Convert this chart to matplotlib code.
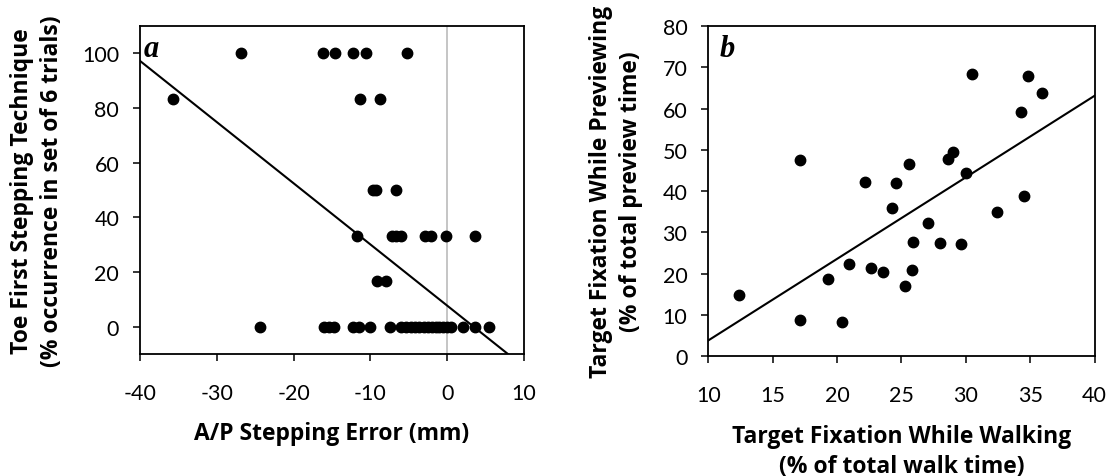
import numpy as np
import matplotlib
matplotlib.use("Agg")
import matplotlib.pyplot as plt

plt.rcParams['font.family'] = ['Lato', 'DejaVu Sans']
plt.rcParams['axes.unicode_minus'] = False

# Panel a: A/P stepping error (mm) vs toe-first occurrence (%)
a_err = [-26.8, -16.1, -14.6, -12.3, -10.5, -5.2,
         -35.7, -11.3, -8.8,
         -9.6, -9.2, -6.7,
         -11.7, -7.2, -6.6, -6.0, -2.85, -2.1, -0.1, 3.7,
         -9.1, -8.0,
         -24.4, -16.0, -15.4, -14.7, -12.2, -11.5, -10.0, -7.4, -6.0,
         -5.3, -4.7, -4.2, -3.6, -3.0, -2.5, -2.0, -1.5, -1.0, -0.5, 0.0, 0.5,
         2.1, 3.7, 5.5]
a_toe = [100, 100, 100, 100, 100, 100,
         83.3, 83.3, 83.3,
         50, 50, 50,
         33.3, 33.3, 33.3, 33.3, 33.3, 33.3, 33.3, 33.3,
         16.7, 16.7,
         0, 0, 0, 0, 0, 0, 0, 0, 0,
         0, 0, 0, 0, 0, 0, 0, 0, 0, 0, 0, 0,
         0, 0, 0]
# trendline as drawn in the figure (slope, intercept)
a_fit = [-2.24, 7.7]

# Panel b: target fixation while walking vs while previewing (%)
b_walk = [17.1, 22.2, 24.6, 25.6, 28.6, 29.0, 30.0, 30.5, 34.8, 35.9, 34.3,
          34.5, 32.4, 24.3, 27.1, 25.9, 28.0, 29.6, 20.9, 19.3, 22.6, 23.6,
          25.8, 25.3, 12.4, 17.1, 20.4]
b_prev = [47.6, 42.3, 42.0, 46.6, 47.9, 49.5, 44.4, 68.4, 68.0, 63.7, 59.3,
          38.8, 35.0, 36.0, 32.2, 27.6, 27.4, 27.2, 22.3, 18.7, 21.4, 20.3,
          20.9, 16.9, 14.7, 8.7, 8.3]

a_xticks = [-40, -30, -20, -10, 0, 10]
a_yticks = [0, 20, 40, 60, 80, 100]
b_xticks = [10, 15, 20, 25, 30, 35, 40]
b_yticks = [0, 10, 20, 30, 40, 50, 60, 70, 80]

LBL = dict(fontsize=16.5, fontweight='bold', linespacing=1.35,
           family=['Open Sans', 'DejaVu Sans'])


def style(ax):
    for s in ax.spines.values():
        s.set_color('black')
        s.set_linewidth(1.3)
    ax.tick_params(direction='out', length=5, width=1.1, labelsize=15.5,
                   colors='black')
    ax.tick_params(axis='x', pad=16)
    ax.tick_params(axis='y', pad=10)


def main():
    fig = plt.figure(figsize=(11.17, 4.77), dpi=100)

    # panel a
    ax1 = fig.add_axes([0.1253, 0.256, 0.3437, 0.687])
    ax1.set_xlim(-40, 10)
    ax1.set_ylim(-10, 110)
    ax1.axvline(0, color='#bbbbbb', lw=1.2, zorder=1)
    xs = np.array([-40, 10])
    ax1.plot(xs, a_fit[0] * xs + a_fit[1], color='black', lw=1.5, zorder=2)
    ax1.plot(a_err, a_toe, 'o', color='black', ms=7.5, zorder=3)
    ax1.set_xticks(a_xticks)
    ax1.set_yticks(a_yticks)
    style(ax1)
    ax1.set_xlabel('A/P Stepping Error (mm)', va='top', **LBL)
    ax1.xaxis.set_label_coords(0.5, -0.205)
    ax1.set_ylabel('Toe First Stepping Technique\n(% occurrence in set of 6 trials)',
                   **LBL)
    ax1.yaxis.set_label_coords(-0.198, 0.5)
    ax1.text(0.01, 0.975, 'a', transform=ax1.transAxes, fontsize=22,
             fontweight='bold', fontstyle='italic', family='Liberation Serif',
             va='top', ha='left')

    # panel b
    ax2 = fig.add_axes([0.634, 0.2516, 0.346, 0.6914])
    ax2.set_xlim(10, 40)
    ax2.set_ylim(0, 80)
    k, c = np.polyfit(b_walk, b_prev, 1)
    xs = np.array([10, 40])
    ax2.plot(xs, k * xs + c, color='black', lw=1.5, zorder=2)
    ax2.plot(b_walk, b_prev, 'o', color='black', ms=7.5, zorder=3)
    ax2.set_xticks(b_xticks)
    ax2.set_yticks(b_yticks)
    style(ax2)
    ax2.set_xlabel('Target Fixation While Walking\n(% of total walk time)',
                   va='top', **LBL)
    ax2.xaxis.set_label_coords(0.5, -0.205)
    ax2.set_ylabel('Target Fixation While Previewing\n(% of total preview time)',
                   **LBL)
    ax2.yaxis.set_label_coords(-0.168, 0.5)
    ax2.text(0.03, 0.975, 'b', transform=ax2.transAxes, fontsize=22,
             fontweight='bold', fontstyle='italic', family='Liberation Serif',
             va='top', ha='left')

    fig.savefig('out.png', dpi=100)


if __name__ == '__main__':
    main()
